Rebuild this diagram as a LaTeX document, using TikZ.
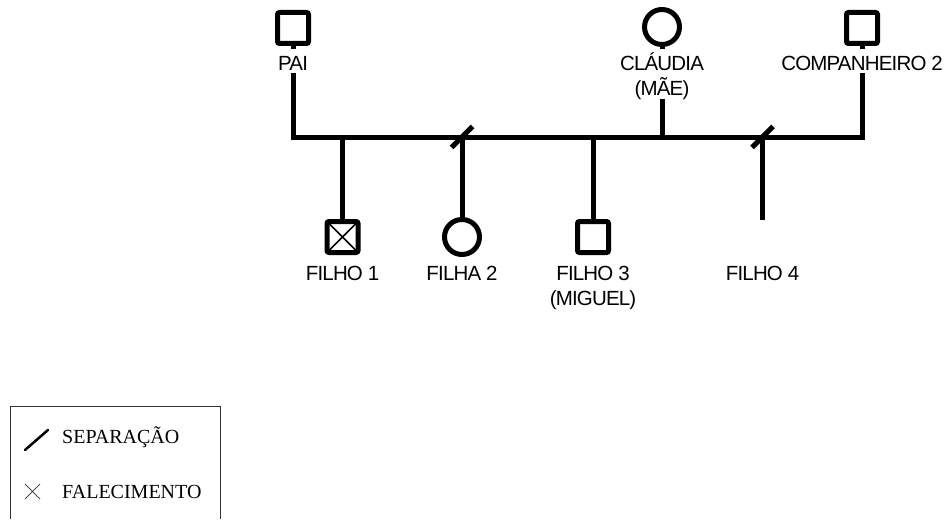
\documentclass[tikz,border=0pt]{standalone}
\usepackage{fontspec}
\setmainfont{Liberation Sans}
\newfontfamily\labfont[LetterSpace=-4]{Liberation Sans}
\newfontfamily\legfont{Liberation Serif}
\newcommand{\labstrut}{\rule[-3pt]{0pt}{24pt}}
\tikzset{
	man/.style={draw,line width=5pt,rounded corners=2pt,minimum size=31pt,inner sep=0pt},
	woman/.style={draw,circle,line width=5pt,minimum size=35pt,inner sep=0pt},
	deceased/.style={path picture={\draw[line width=1.5pt]
		(path picture bounding box.north west)--(path picture bounding box.south east)
		(path picture bounding box.north east)--(path picture bounding box.south west);}},
	rel/.style={line width=5pt},
	sepmark/.style={line width=5pt},
	lab/.style={font=\labfont\fontsize{20.5}{25}\selectfont,align=center,inner xsep=1pt,inner ysep=0pt,anchor=north},
	toplab/.style={lab,fill=white},
	legtext/.style={font=\legfont\fontsize{20}{23}\selectfont,inner sep=0pt,anchor=base west}
}
\begin{document}
\begin{tikzpicture}[x=1pt,y=-1pt,line join=miter]
	\useasboundingbox (0,0) rectangle (949,519);
	\node[man] (pai) at (293,28) {};
	\node[woman] (claudia) at (662,27) {};
	\node[man] (comp) at (862,28) {};
	\node[man,deceased] (filho1) at (342.5,237) {};
	\node[woman] (filha2) at (462,237) {};
	\node[man] (filho3) at (593,237) {};
	\path (762.5,220) coordinate (filho4)
	(0,137) coordinate (bar);
	\draw[rel] (pai) -- (pai |- bar) -- (comp |- bar) -- (comp);
	\draw[rel] (claudia) -- (claudia |- bar);
	\foreach \c in {filho1,filha2,filho3,filho4} \draw[rel] (\c |- bar) -- (\c);
	\foreach \c in {filha2,filho4} \draw[sepmark] (\c |- bar) ++(-10.5,10.5) -- ++(21,-21);
	% labels sit on the lines and hide them
	\node[toplab] (pai-l) at (293,49) {\labstrut PAI};
	\node[toplab] (claudia-l) at (662,49) {\labstrut CLÁUDIA\\(MÃE)};
	\node[toplab] (comp-l) at (862,49) {\labstrut COMPANHEIRO 2};
	\foreach \c/\t in {filho1/FILHO 1, filha2/FILHA 2, filho3/{FILHO 3\\(MIGUEL)}, filho4/FILHO 4}
		\node[lab] (\c-l) at (\c |- 0,259) {\labstrut \t};
	% legenda
	\draw[line width=1pt,black!80] (10,519) -- (10,406) -- (220,406) -- (220,519);
	\draw[line width=2.5pt,line cap=round] (25,450) -- (48,430);
	\draw[line width=0.8pt,black!70] (25,484) -- (40,499) (25,499) -- (40,484);
	\node[legtext] (sep-t) at (62,443) {SEPARAÇÃO};
	\node[legtext] (fal-t) at (62,498) {FALECIMENTO};
\end{tikzpicture}
\end{document}
